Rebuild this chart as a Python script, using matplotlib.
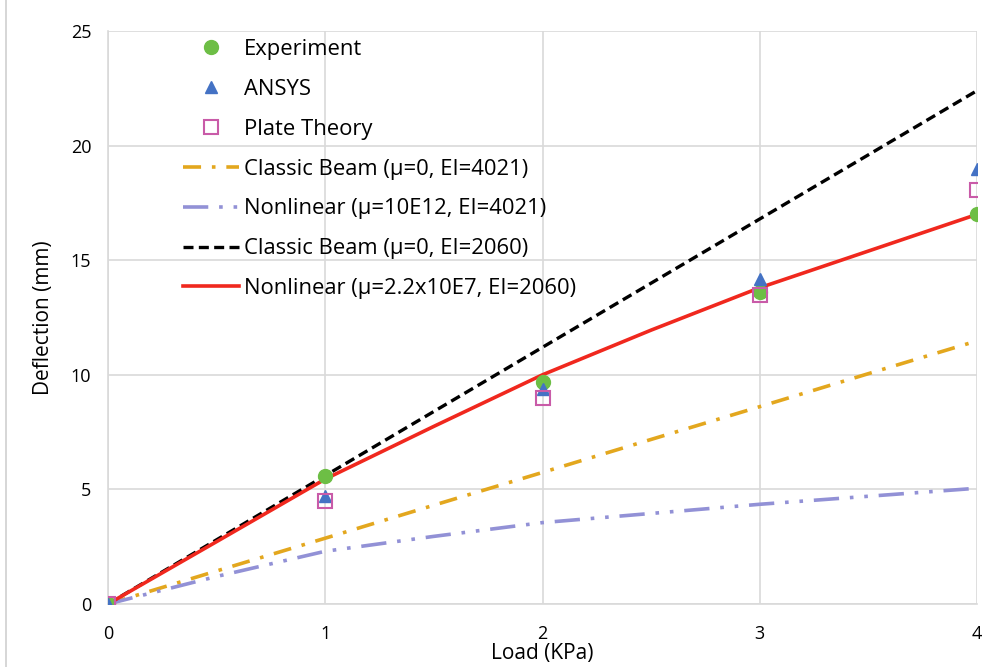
import matplotlib
matplotlib.use("Agg")
import matplotlib.pyplot as plt
from matplotlib.lines import Line2D

plt.rcParams['font.family'] = ['Open Sans', 'DejaVu Sans']

# Data
load_pts = [0, 1, 2, 3, 4]
experiment = [0, 5.6, 9.7, 13.6, 17.0]
ansys = [0, 4.7, 9.4, 14.2, 19.0]
plate = [0, 4.5, 9.0, 13.5, 18.05]

load_line = [0, 0.5, 1, 1.5, 2, 2.5, 3, 3.5, 4]
classic_4021 = [0, 1.44, 2.87, 4.31, 5.74, 7.18, 8.61, 10.05, 11.48]
nonlinear_10e12 = [0, 1.2, 2.3, 2.95, 3.55, 3.95, 4.35, 4.7, 5.05]
classic_2060 = [0, 2.8, 5.6, 8.4, 11.2, 14.0, 16.8, 19.6, 22.4]
nonlinear_22e7 = [0, 2.72, 5.45, 7.75, 10.0, 11.95, 13.8, 15.4, 17.0]

labels = ["Experiment", "ANSYS", "Plate Theory",
          "Classic Beam (\u03bc=0, EI=4021)",
          "Nonlinear (\u03bc=10E12, EI=4021)",
          "Classic Beam (\u03bc=0, EI=2060)",
          "Nonlinear (\u03bc=2.2x10E7, EI=2060)"]
xticks = [0, 1, 2, 3, 4]
yticks = [0, 5, 10, 15, 20, 25]

fig = plt.figure(figsize=(9.95, 6.67), dpi=100)
ax = fig.add_axes([0.1085, 0.0945, 0.8735, 0.859])

c_green = "#6DBE45"
c_blue = "#4472C4"
c_mag = "#C95BA8"
c_gold = "#E3A71E"
c_purple = "#9291D6"
c_red = "#F0281E"

l4, = ax.plot(load_line, classic_4021, color=c_gold, lw=2.6,
              linestyle=(0, (5, 3, 1, 3)), zorder=3)
l5, = ax.plot(load_line, nonlinear_10e12, color=c_purple, lw=2.6,
              linestyle=(0, (7, 3, 1, 3, 1, 3)), zorder=3)
l6, = ax.plot(load_line, classic_2060, color="black", lw=2.4,
              linestyle=(0, (3, 1.6)), zorder=3)
l7, = ax.plot(load_line, nonlinear_22e7, color=c_red, lw=2.6, zorder=3)

s1, = ax.plot(load_pts, experiment, 'o', color=c_green, ms=10, zorder=5)
s2, = ax.plot(load_pts, ansys, '^', color=c_blue, ms=9, zorder=6)
s3, = ax.plot(load_pts, plate, 's', mfc='none', mec=c_mag, mew=1.5, ms=10, zorder=7)

ax.set_xlim(0, 4)
ax.set_ylim(0, 25)
ax.set_xticks(xticks)
ax.set_yticks(yticks)
ax.grid(True, color="#D9D9D9", lw=1.2)
ax.set_axisbelow(True)
for side in ["top", "right"]:
    ax.spines[side].set_visible(False)
for side in ["left", "bottom"]:
    ax.spines[side].set_color("#D9D9D9")
    ax.spines[side].set_linewidth(1.2)
ax.tick_params(axis="y", length=0, labelsize=13, pad=12)
ax.tick_params(axis="x", length=0, labelsize=13, pad=15)
ax.set_xlabel("Load (KPa)", fontsize=15, labelpad=0)
ax.set_ylabel("Deflection (mm)", fontsize=15, labelpad=12)

leg = ax.legend([s1, s2, s3, l4, l5, l6, l7], labels, loc="upper left",
                bbox_to_anchor=(0.084, 0.99), frameon=False, fontsize=15.8,
                handlelength=2.55, handletextpad=0.22, labelspacing=0.86,
                borderaxespad=0.0, borderpad=0.1)

fig.add_artist(Line2D([0.006, 0.006], [0.0, 1.0], color="#CFCFCF", lw=1.2,
                      transform=fig.transFigure))

fig.savefig("out.png", dpi=100)
